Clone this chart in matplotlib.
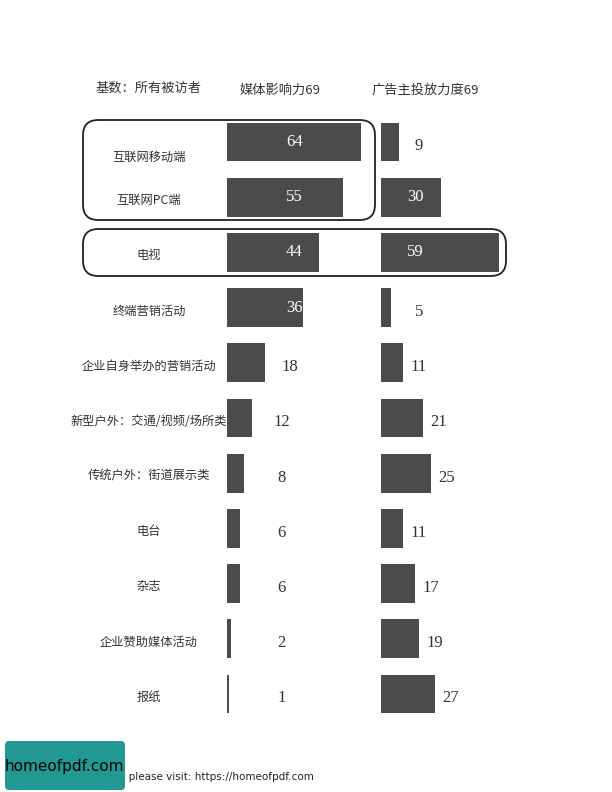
import matplotlib
matplotlib.use("Agg")
import matplotlib.pyplot as plt
from matplotlib.patches import FancyBboxPatch
from matplotlib.transforms import blended_transform_factory

plt.rcParams['font.family'] = ['Noto Sans CJK SC', 'DejaVu Sans']

# 数据
categories = ['互联网移动端', '互联网PC端', '电视', '终端营销活动', '企业自身举办的营销活动',
              '新型户外：交通/视频/场所类', '传统户外：街道展示类', '电台', '杂志',
              '企业赞助媒体活动', '报纸']
media_influence = [64, 55, 44, 36, 18, 12, 8, 6, 6, 2, 1]
ad_spend = [9, 30, 59, 5, 11, 21, 25, 11, 17, 19, 27]
header_base = '基数：所有被访者'
header_left = '媒体影响力69'
header_right = '广告主投放力度69'

W, H = 612, 792
fig = plt.figure(figsize=(W / 100, H / 100), dpi=100)


def fx(x):
    return x / W


def fy(y):
    return 1 - y / H


bar_color = '#4b4b4b'
num_font = 'Liberation Serif'
n = len(categories)
rows = list(range(n))
row_h = 55.2
top = 142 - row_h / 2
ax_bottom = fy(top + row_h * n)
ax_h = row_h * n / H

# 左：媒体影响力
ax1 = fig.add_axes([fx(227), ax_bottom, 70 * 2.1 / W, ax_h])
ax1.barh(rows, media_influence, height=0.7, color=bar_color)
ax1.set_xlim(0, 70)
ax1.set_ylim(n - 0.5, -0.5)
for i, v in enumerate(media_influence):
    if v >= 30:
        ax1.text(32, i, str(v), color='white', ha='center', va='center',
                 fontsize=12, family=num_font)
    else:
        ax1.text(max(v + 12, 26), i + 0.08, str(v), color='#333333', ha='center',
                 va='center', fontsize=12, family=num_font)

# 右：广告主投放力度
ax2 = fig.add_axes([fx(381), ax_bottom, 60 * 2.0 / W, ax_h])
ax2.barh(rows, ad_spend, height=0.7, color=bar_color)
ax2.set_xlim(0, 60)
ax2.set_ylim(n - 0.5, -0.5)
for i, v in enumerate(ad_spend):
    if v >= 30:
        ax2.text(17, i, str(v), color='white', ha='center', va='center',
                 fontsize=12, family=num_font)
    else:
        ax2.text(max(v + 8, 19), i + 0.08, str(v), color='#333333', ha='center',
                 va='center', fontsize=12, family=num_font)

for ax in (ax1, ax2):
    ax.axis('off')

# 类别标签
tr = blended_transform_factory(fig.transFigure, ax1.transData)
for i, c in enumerate(categories):
    dy = 0.27 if i == 0 else 0.06
    t = fig.text(fx(149), 0, c, transform=tr, ha='center', va='center', fontsize=8.8,
                 color='#333333')
    t.set_y(i + dy)

# 表头
fig.text(fx(149), fy(88), header_base, ha='center', va='center', fontsize=9.5, color='#333333')
fig.text(fx(280), fy(90), header_left, ha='center', va='center', fontsize=9.5, color='#333333')
fig.text(fx(425), fy(90), header_right, ha='center', va='center', fontsize=9.5, color='#333333')

# 圆角框
for x0, y0, x1, y1 in [(83, 120, 375, 220), (83, 229, 506, 276)]:
    fig.patches.append(FancyBboxPatch((fx(x0), fy(y1)), fx(x1) - fx(x0), fy(y0) - fy(y1),
                                      boxstyle='round,pad=0,rounding_size=0.025',
                                      transform=fig.transFigure, fill=False,
                                      edgecolor='#222222', linewidth=1.3,
                                      mutation_aspect=W / H))

# 水印
fig.text(fx(119), fy(777), 'e please visit: https://homeofpdf.com', ha='left', va='center',
         fontsize=7.5, family='DejaVu Sans', color='#222222')
fig.patches.append(FancyBboxPatch((fx(5), fy(790)), fx(120), fy(741) - fy(790),
                                  boxstyle='round,pad=0,rounding_size=0.006',
                                  transform=fig.transFigure, facecolor='#229893',
                                  edgecolor='none', zorder=5))
fig.text(fx(64), fy(767), 'homeofpdf.com', ha='center', va='center', fontsize=11,
         family='DejaVu Sans', color='black', zorder=6)

fig.savefig('out.png', dpi=100)
